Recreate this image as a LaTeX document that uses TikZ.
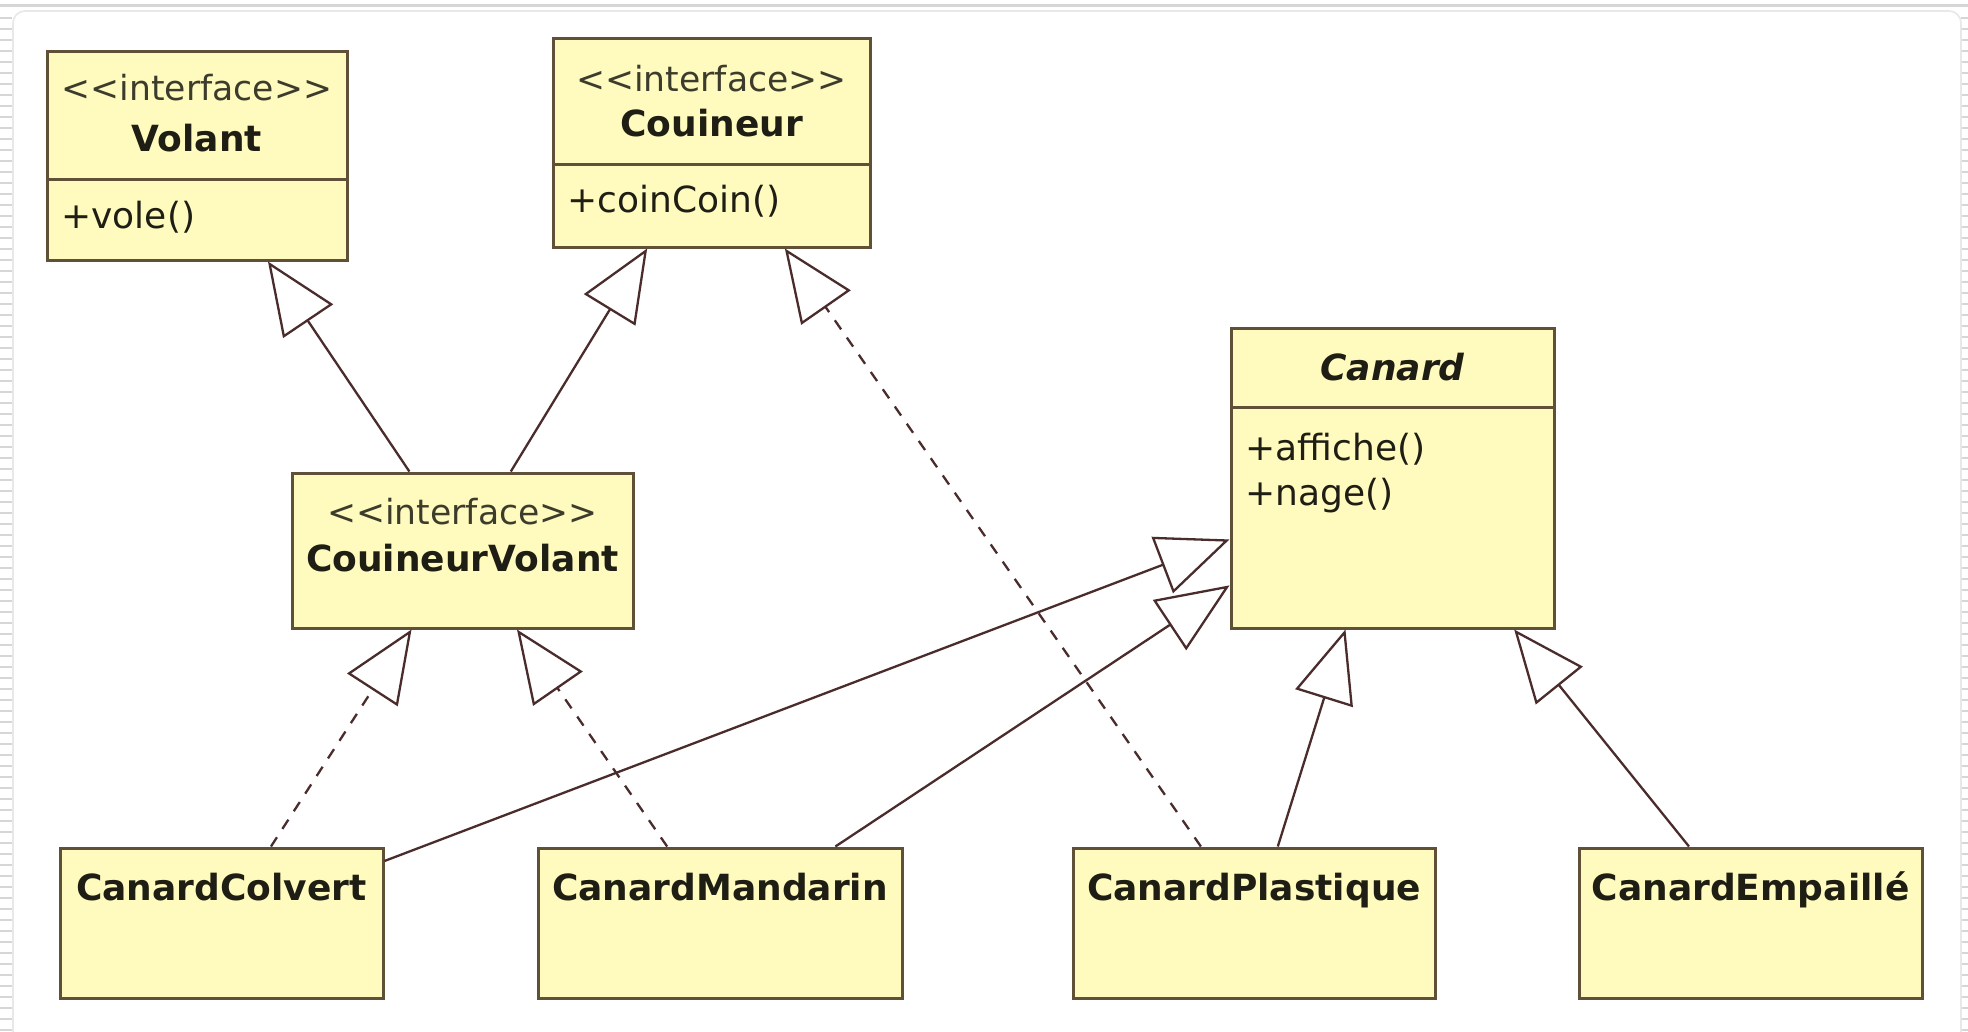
\documentclass[tikz,border=0pt]{standalone}
\usepackage{fontspec}
\setmainfont{DejaVu Sans}[Ligatures=TeXOff]
\usetikzlibrary{arrows.meta}

\definecolor{umlfill}{RGB}{255,250,190}
\definecolor{umledge}{RGB}{96,80,55}
\definecolor{umlline}{RGB}{74,44,44}
\definecolor{umltext}{RGB}{30,30,20}
\definecolor{stereotext}{RGB}{60,60,45}
\definecolor{framegray}{RGB}{214,214,214}
\definecolor{panelgray}{RGB}{232,232,232}

\begin{document}
\begin{tikzpicture}[x=0.5pt,y=-0.5pt,
  font=\fontsize{18pt}{21pt}\selectfont,
  umlbox/.style={draw=umledge, fill=umlfill, line width=1.5pt, inner sep=0pt},
  stereo/.style={anchor=base, inner sep=0pt, text=stereotext,
    font=\fontsize{17.3pt}{21pt}\selectfont},
  cname/.style={anchor=base, inner sep=0pt, text=umltext,
    font=\fontsize{18pt}{21pt}\selectfont\bfseries},
  op/.style={anchor=base west, inner sep=0pt, text=umltext},
  divider/.style={draw=umledge, line width=1.5pt},
  realize/.style={draw=umlline, line width=1.15pt,
    -{Triangle[open, length=36pt, width=30pt]}},
  implement/.style={realize, dash pattern=on 5.5pt off 5pt},
]
% page background and window frame
\useasboundingbox (0,0) rectangle (1968,1032);
\fill[white] (0,0) rectangle (1968,1032);
\draw[framegray, line width=1.5pt] (0,6) -- (1968,6);
\foreach \k in {0,...,92} {
  \draw[framegray, line width=0.8pt] (0,18+11*\k) -- (12,18+11*\k);
  \draw[framegray, line width=0.8pt] (1961,18+11*\k) -- (1968,18+11*\k);
}
\draw[panelgray, line width=0.8pt, rounded corners=6pt]
  (13,1040) -- (13,11) -- (1961,11) -- (1961,1040);

% interfaces
\node[umlbox, minimum width=150pt, minimum height=104pt] (volant) at (197,156) {};
\draw[divider] (volant.west |- 0,180) -- (volant.east |- 0,180);
\node[stereo] (volant-st) at (197,101) {<<interface>>};
\node[cname] (volant-nm) at (197,152) {Volant};
\node[op] (volant-op) at (61,228) {+vole()};

\node[umlbox, minimum width=158.5pt, minimum height=104pt] (couineur) at (711.5,143) {};
\draw[divider] (couineur.west |- 0,165) -- (couineur.east |- 0,165);
\node[stereo] (couineur-st) at (711.5,92) {<<interface>>};
\node[cname] (couineur-nm) at (711.5,137) {Couineur};
\node[op] (couineur-op) at (567,213) {+coinCoin()};

\node[umlbox, minimum width=170.5pt, minimum height=77.5pt] (cv) at (462.5,550.5) {};
\node[stereo] (cv-st) at (462.5,524) {<<interface>>};
\node[cname] (cv-nm) at (462.5,571) {CouineurVolant};

% abstract class
\node[umlbox, minimum width=161.5pt, minimum height=150pt] (canard) at (1392.5,478) {};
\draw[divider] (canard.west |- 0,407) -- (canard.east |- 0,407);
\node[cname, font=\fontsize{18pt}{21pt}\selectfont\bfseries\itshape] (canard-nm) at (1392.5,380) {Canard};
\node[op] (canard-op1) at (1245,460) {+affiche()};
\node[op] (canard-op2) at (1245,505) {+nage()};

% concrete classes
\node[umlbox, minimum width=161.5pt, minimum height=75pt] (colvert) at (221.5,923) {};
\node[cname] (colvert-nm) at (221.5,900) {CanardColvert};
\node[umlbox, minimum width=182pt, minimum height=75pt] (mandarin) at (720,923) {};
\node[cname] (mandarin-nm) at (720,900) {CanardMandarin};
\node[umlbox, minimum width=181pt, minimum height=75pt] (plastique) at (1254,923) {};
\node[cname] (plastique-nm) at (1254,900) {CanardPlastique};
\node[umlbox, minimum width=171.5pt, minimum height=75pt] (empaille) at (1750.5,923) {};
\node[cname] (empaille-nm) at (1750.5,900) {CanardEmpaillé};

% generalisations and realisations
\draw[realize] (cv) -- (volant);
\draw[realize] (cv) -- (couineur);
\draw[implement] (plastique) -- (couineur);
\draw[implement] (colvert) -- (cv);
\draw[implement] (mandarin) -- (cv);
\draw[realize] (colvert) -- (canard);
\draw[realize] (mandarin) -- (canard);
\draw[realize] (plastique) -- (canard);
\draw[realize] (empaille) -- (canard);
\end{tikzpicture}
\end{document}
